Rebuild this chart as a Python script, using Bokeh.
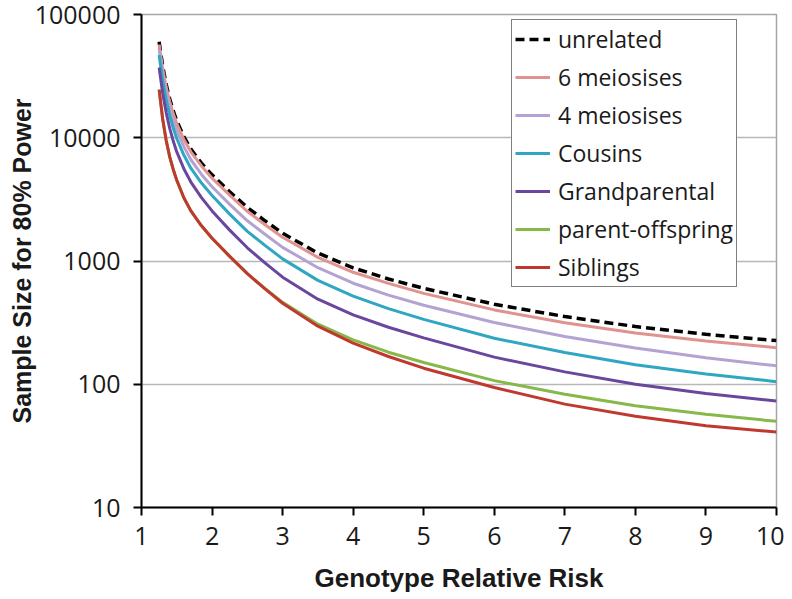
from bokeh.plotting import figure
from bokeh.models import (FixedTicker, BasicTickFormatter, Legend, LegendItem,
                          ColumnDataSource)
from bokeh.embed import file_html
from bokeh.resources import INLINE

# ---- data ----
grr = [1.25, 1.3, 1.35, 1.4, 1.45, 1.5, 1.6, 1.7, 1.85, 2, 2.25, 2.5, 2.75,
       3, 3.5, 4, 4.5, 5, 6, 7, 8, 9, 10]

unrelated = [60000, 38300, 27100, 20600, 16500, 13700, 10200, 8090, 6220, 5000, 3640, 2720, 2120,
             1680, 1160, 880, 715, 600, 446, 354, 294, 254, 226]
meiosis6 = [57000, 36400, 25700, 19600, 15700, 13000, 9690, 7690, 5910, 4700, 3420, 2530, 1970,
            1560, 1070, 810, 658, 546, 401, 315, 260, 224, 198]
meiosis4 = [52200, 32900, 23200, 17500, 13900, 11500, 8470, 6630, 5040, 4000, 2880, 2120, 1650,
            1290, 882, 660, 529, 438, 317, 244, 197, 164, 141]
cousins = [46800, 29100, 20300, 15200, 12000, 9860, 7240, 5660, 4290, 3400, 2400, 1740, 1340,
           1040, 696, 519, 411, 336, 236, 181, 144, 121, 105]
grandparental = [37200, 23000, 16000, 11900, 9400, 7670, 5610, 4370, 3270, 2550, 1780, 1280, 965,
                 739, 490, 365, 290, 238, 166, 126, 100, 84, 73]
parent_offspring = [24600, 14200, 9490, 7000, 5530, 4520, 3260, 2550, 1930, 1530, 1090, 789, 600,
                    462, 307, 229, 182, 150, 107, 83, 67, 57, 50]
siblings = [24600, 14200, 9490, 7000, 5530, 4520, 3260, 2550, 1930, 1530, 1090, 789, 594,
            454, 296, 216, 168, 135, 94, 69, 55, 46, 41]

series_names = ["unrelated", "6 meiosises", "4 meiosises", "Cousins",
                "Grandparental", "parent-offspring", "Siblings"]
series_values = [unrelated, meiosis6, meiosis4, cousins, grandparental,
                 parent_offspring, siblings]
series_colors = ["#000000", "#e0928f", "#b4a3d2", "#2fa6c2", "#6a479e",
                 "#86b84a", "#c0392f"]

x_ticks = [1, 2, 3, 4, 5, 6, 7, 8, 9, 10]
y_ticks = [10, 100, 1000, 10000, 100000]
x_title = "Genotype Relative Risk"
y_title = "Sample Size for 80% Power"

FONT = "Open Sans"
TITLE_FONT = "Liberation Sans"

p = figure(frame_width=635, frame_height=493, y_axis_type="log",
           x_range=(1, 10), y_range=(10, 100000),
           output_backend="svg", toolbar_location=None,
           min_border_left=141, min_border_right=8,
           min_border_top=14, min_border_bottom=82)

p.background_fill_color = "white"
p.border_fill_color = "white"
p.outline_line_color = "#a6a6a6"
p.outline_line_width = 1.5

p.xgrid.visible = False
p.ygrid.ticker = FixedTicker(ticks=y_ticks)
p.ygrid.grid_line_color = "#b8b8b8"
p.ygrid.grid_line_width = 1.5
p.ygrid.minor_grid_line_color = None

p.xaxis.ticker = FixedTicker(ticks=x_ticks)
p.yaxis.ticker = FixedTicker(ticks=y_ticks)
p.yaxis.formatter = BasicTickFormatter(use_scientific=False)

for ax in (p.xaxis, p.yaxis):
    ax.axis_line_color = "black"
    ax.axis_line_width = 2
    ax.major_tick_line_color = "black"
    ax.major_tick_line_width = 2
    ax.major_tick_out = 8
    ax.major_tick_in = 0
    ax.minor_tick_line_color = None
    ax.major_label_text_font = FONT
    ax.major_label_text_font_size = "25px"
    ax.major_label_text_color = "#1a1a1a"
    ax.axis_label_text_font = TITLE_FONT
    ax.axis_label_text_font_style = "bold"
    ax.axis_label_text_color = "#1a1a1a"

p.xaxis.axis_label = x_title
p.xaxis.axis_label_text_font_size = "26px"
p.xaxis.major_label_standoff = 11
p.xaxis.axis_label_standoff = 15

p.yaxis.axis_label = y_title
p.yaxis.axis_label_text_font_size = "25px"
p.yaxis.major_label_standoff = 13
p.yaxis.axis_label_standoff = -4

items = []
for name, vals, col in zip(series_names, series_values, series_colors):
    src = ColumnDataSource(dict(x=grr, y=vals))
    if name == "unrelated":
        r = p.line("x", "y", source=src, line_color=col, line_width=3.5,
                   line_dash="9 5")
    else:
        r = p.line("x", "y", source=src, line_color=col, line_width=3)
    items.append(LegendItem(label=name, renderers=[r]))

legend = Legend(items=items, location=(370, 220))
legend.margin = 0
legend.padding = 3
legend.spacing = 6
legend.glyph_width = 35
legend.glyph_height = 20
legend.label_standoff = 8
legend.label_text_font = FONT
legend.label_text_font_size = "23px"
legend.label_text_color = "#1a1a1a"
legend.border_line_color = "black"
legend.border_line_width = 1.5
legend.background_fill_alpha = 1
p.add_layout(legend)

open("out.html", "w").write(file_html(p, INLINE))
